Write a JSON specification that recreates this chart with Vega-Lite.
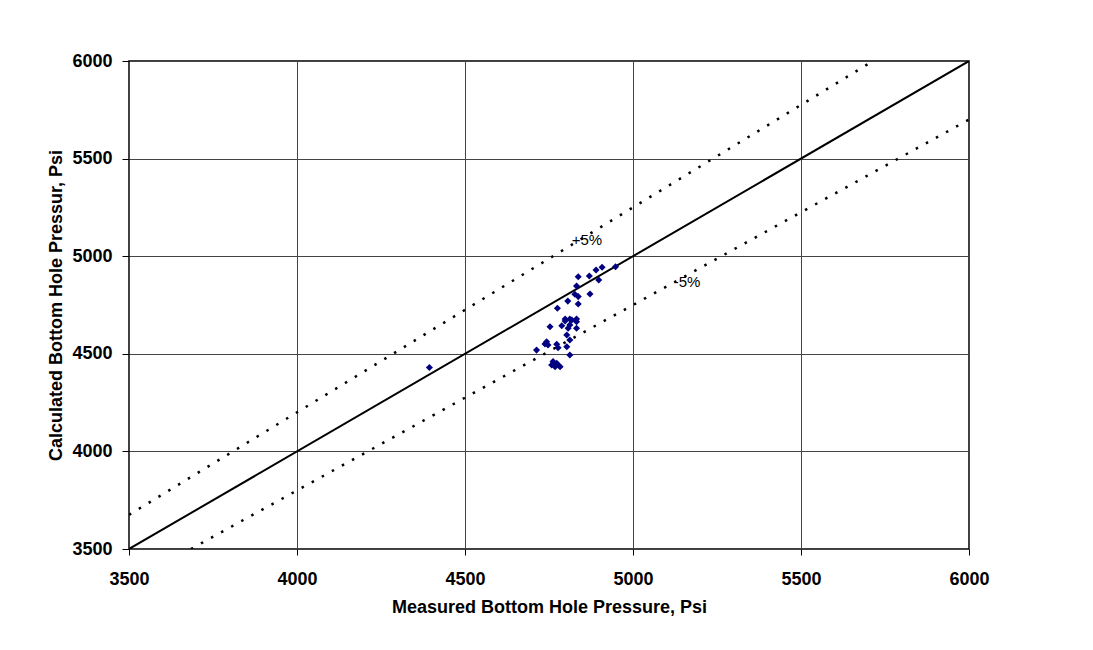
{
  "$schema": "https://vega.github.io/schema/vega-lite/v6.json",
  "autosize": {"type": "none"},
  "padding": {"left": 129, "top": 61, "right": 124, "bottom": 101},
  "width": 840,
  "height": 488,
  "background": "white",
  "config": {
    "font": "Liberation Sans",
    "view": {"stroke": "black", "strokeWidth": 1.5},
    "axis": {
      "labelFont": "Liberation Sans",
      "labelFontSize": 18,
      "labelFontWeight": "bold",
      "labelColor": "black",
      "titleFont": "Liberation Sans",
      "titleFontSize": 18,
      "titleFontWeight": "bold",
      "titleColor": "black",
      "domain": false,
      "tickColor": "black",
      "gridColor": "#444444",
      "gridWidth": 1,
      "gridOpacity": 1,
      "format": "d"
    }
  },
  "datasets": {
    "points": [
      {"measured": 4837, "calculated": 4895},
      {"measured": 4870, "calculated": 4899},
      {"measured": 4890, "calculated": 4929},
      {"measured": 4908, "calculated": 4943},
      {"measured": 4948, "calculated": 4946},
      {"measured": 4898, "calculated": 4878},
      {"measured": 4832, "calculated": 4847},
      {"measured": 4827, "calculated": 4805},
      {"measured": 4837, "calculated": 4793},
      {"measured": 4872, "calculated": 4806},
      {"measured": 4806, "calculated": 4770},
      {"measured": 4837, "calculated": 4755},
      {"measured": 4775, "calculated": 4733},
      {"measured": 4798, "calculated": 4678},
      {"measured": 4812, "calculated": 4678},
      {"measured": 4832, "calculated": 4678},
      {"measured": 4798, "calculated": 4668},
      {"measured": 4818, "calculated": 4673},
      {"measured": 4832, "calculated": 4664},
      {"measured": 4812, "calculated": 4648},
      {"measured": 4832, "calculated": 4631},
      {"measured": 4788, "calculated": 4644},
      {"measured": 4807, "calculated": 4631},
      {"measured": 4753, "calculated": 4639},
      {"measured": 4803, "calculated": 4596},
      {"measured": 4812, "calculated": 4571},
      {"measured": 4743, "calculated": 4562},
      {"measured": 4747, "calculated": 4545},
      {"measured": 4738, "calculated": 4550},
      {"measured": 4773, "calculated": 4549},
      {"measured": 4803, "calculated": 4536},
      {"measured": 4777, "calculated": 4531},
      {"measured": 4713, "calculated": 4519},
      {"measured": 4812, "calculated": 4494},
      {"measured": 4762, "calculated": 4460},
      {"measured": 4773, "calculated": 4451},
      {"measured": 4777, "calculated": 4443},
      {"measured": 4768, "calculated": 4434},
      {"measured": 4783, "calculated": 4434},
      {"measured": 4758, "calculated": 4443},
      {"measured": 4394, "calculated": 4430}
    ],
    "lines": [
      {"line": "equal", "measured": 3500, "calculated": 3500},
      {"line": "equal", "measured": 6000, "calculated": 6000},
      {"line": "plus5", "measured": 3500, "calculated": 3675},
      {"line": "plus5", "measured": 5714.3, "calculated": 6000},
      {"line": "minus5", "measured": 3684.2, "calculated": 3500},
      {"line": "minus5", "measured": 6000, "calculated": 5700}
    ],
    "labels": [
      {"text": "+5%", "measured": 4863, "calculated": 5083},
      {"text": "-5%", "measured": 5161, "calculated": 4868}
    ]
  },
  "layer": [
    {
      "data": {"name": "lines"},
      "transform": [{"filter": "datum.line === 'equal'"}],
      "mark": {"type": "line", "color": "black", "strokeWidth": 2, "clip": true},
      "encoding": {
        "x": {
          "field": "measured", "type": "quantitative",
          "scale": {"domain": [3500, 6000], "nice": false, "zero": false},
          "axis": {"values": [3500, 4000, 4500, 5000, 5500, 6000], "title": "Measured Bottom Hole Pressure, Psi", "tickSize": 6, "labelPadding": 15, "titlePadding": 10, "labelFlush": false}
        },
        "y": {
          "field": "calculated", "type": "quantitative",
          "scale": {"domain": [3500, 6000], "nice": false, "zero": false},
          "axis": {"values": [3500, 4000, 4500, 5000, 5500, 6000], "title": "Calculated Bottom Hole Pressur, Psi", "tickSize": 7, "labelPadding": 10, "titlePadding": 6, "labelFlush": false}
        }
      }
    },
    {
      "data": {"name": "lines"},
      "transform": [{"filter": "datum.line !== 'equal'"}],
      "mark": {"type": "line", "color": "black", "strokeWidth": 2.5, "strokeDash": [2.5, 9], "clip": true},
      "encoding": {
        "x": {"field": "measured", "type": "quantitative"},
        "y": {"field": "calculated", "type": "quantitative"},
        "detail": {"field": "line"}
      }
    },
    {
      "data": {"name": "points"},
      "mark": {"type": "point", "shape": "diamond", "filled": true, "color": "#000080", "size": 50, "opacity": 1},
      "encoding": {
        "x": {"field": "measured", "type": "quantitative"},
        "y": {"field": "calculated", "type": "quantitative"}
      }
    },
    {
      "data": {"name": "labels"},
      "mark": {"type": "text", "fontSize": 15, "font": "Liberation Sans", "color": "black"},
      "encoding": {
        "x": {"field": "measured", "type": "quantitative"},
        "y": {"field": "calculated", "type": "quantitative"},
        "text": {"field": "text"}
      }
    }
  ]
}
